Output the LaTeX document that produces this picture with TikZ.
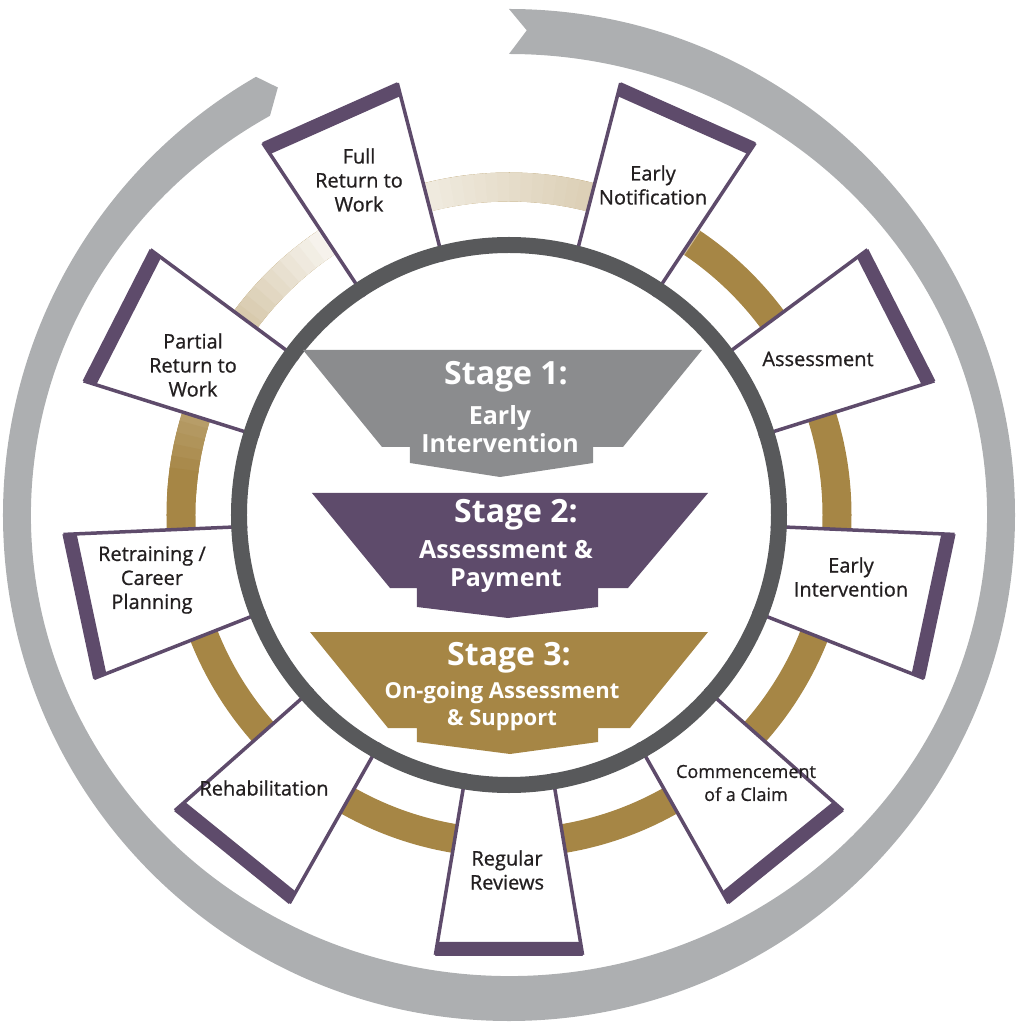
\documentclass[tikz,border=0pt]{standalone}
\usepackage{fontspec}
\setmainfont{Open Sans}
\newfontfamily\labelfont[FakeBold=0.8]{Open Sans}

\definecolor{outgray}{RGB}{173,175,177}
\definecolor{ringgray}{RGB}{88,89,91}
\definecolor{gold}{RGB}{166,134,69}
\definecolor{plum}{RGB}{94,75,107}
\definecolor{stonegray}{RGB}{139,140,142}
\definecolor{inkdark}{RGB}{35,31,32}

\tikzset{
  boxlabel/.style={align=center, text=inkdark, inner sep=0pt, font=\labelfont\fontsize{20}{24}\selectfont},
  stagetitle/.style={text=white, inner sep=0pt, font=\bfseries\fontsize{32}{36}\selectfont},
  stagesub/.style={text=white, align=center, inner sep=0pt, font=\bfseries\fontsize{25}{28}\selectfont}
}

\begin{document}
\begin{tikzpicture}[x=1pt, y=1pt]
  \useasboundingbox (-509,-510) rectangle (508,515);

  % Outer return arrow
  \fill[outgray] (90:506) arc[start angle=90, end angle=-240, radius=506pt]
    -- (-241.6:486) -- (-240:478 and 461)
    arc[start angle=-240, end angle=90, x radius=478pt, y radius=461pt]
    -- (87.9:485) -- cycle;

  % Gold ring, fading towards the top left
  \draw[gold, line width=29pt] (0,0) circle[radius=328pt];
  \foreach \a in {56,58,...,174} {
    \pgfmathsetmacro\p{\a<120 ? 3+(120-\a)*52/64 : min(100,3+(\a-120)*97/52)}
    \draw[gold!\p!white, line width=29pt] (\a:328) arc[start angle=\a, end angle=\a+2.3, radius=328pt];
  }

  % Boxes round the ring
  \foreach \a in {-90,-51,-12,27,66,114,153,192,231} {
    \fill[white] ({\a-9.5}:262) -- ({\a-9.5}:446) -- ({\a+9.5}:446) -- ({\a+9.5}:262) -- cycle;
    \draw[plum, line width=3.5pt] ({\a-9.5}:262) -- ({\a-9.5}:446);
    \draw[plum, line width=3.5pt] ({\a+9.5}:262) -- ({\a+9.5}:446);
    \fill[plum] ({\a-9.5}:432.8) -- ({\a-9.5}:447) -- ({\a+9.5}:447) -- ({\a+9.5}:432.8) -- cycle;
  }

  % Inner dark ring
  \draw[ringgray, line width=16pt] (0,0) circle[radius=270pt];

  % Funnel stages
  \fill[stonegray] (-206,165) -- (193,165) -- (114,68) -- (84,68) -- (84,52) -- (-9,38)
    -- (-99,52) -- (-99,68) -- (-127,68) -- cycle;
  \fill[plum] (-197,22) -- (199,22) -- (119,-73) -- (89,-73) -- (89,-92) -- (-1,-103)
    -- (-92,-92) -- (-92,-73) -- (-119,-73) -- cycle;
  \fill[gold] (-199,-117) -- (199,-117) -- (121,-213) -- (89,-213) -- (89,-227) -- (1,-239)
    -- (-92,-227) -- (-92,-213) -- (-121,-213) -- cycle;

  % Stage texts
  \node[stagetitle] (s1title) at (-3,138) {Stage 1:};
  \node[stagesub] (s1text) at (-9,86) {Early\\Intervention};
  \node[stagetitle] (s2title) at (7,0) {Stage 2:};
  \node[stagesub] (s2text) at (-3,-51.5) {Assessment \&\\Payment};
  \node[stagetitle] (s3title) at (0,-143) {Stage 3:};
  \node[stagesub, font=\bfseries\fontsize{22}{27}\selectfont] (s3text) at (-7,-191.5) {On-going Assessment\\\& Support};

  % Box labels
  \node[boxlabel] (fullrtw) at (-150,335) {Full\\Return to\\Work};
  \node[boxlabel] (earlynote) at (144,330) {Early\\Notification};
  \node[boxlabel] (assess) at (309,156) {Assessment};
  \node[boxlabel] (earlyint) at (342,-62) {Early\\Intervention};
  \node[boxlabel, font=\labelfont\fontsize{18}{23}\selectfont] (claim) at (237,-268) {Commencement\\of a Claim};
  \node[boxlabel] (reviews) at (-2,-355) {Regular\\Reviews};
  \node[boxlabel] (rehab) at (-245,-273) {Rehabilitation};
  \node[boxlabel] (retrain) at (-357,-65) {Retraining /\\Career\\Planning};
  \node[boxlabel] (partrtw) at (-316,150) {Partial\\Return to\\Work};
\end{tikzpicture}
\end{document}
